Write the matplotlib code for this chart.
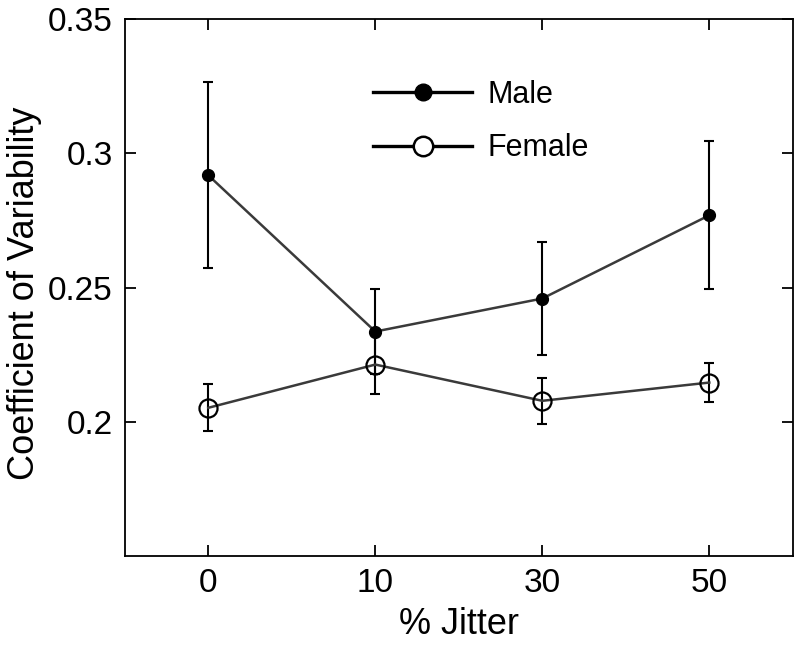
import matplotlib
matplotlib.use("Agg")
import matplotlib.pyplot as plt
from matplotlib.lines import Line2D

plt.rcParams["font.family"] = ["Liberation Sans", "DejaVu Sans"]

jitter_labels = ["0", "10", "30", "50"]
male_cv = [0.2918, 0.2336, 0.2459, 0.2769]
male_err = [0.0347, 0.0157, 0.0209, 0.0275]
female_cv = [0.2052, 0.2213, 0.2078, 0.2146]
female_err = [0.0088, 0.0110, 0.0085, 0.0073]

x = list(range(1, len(jitter_labels) + 1))

fig = plt.figure(figsize=(8, 6.45), dpi=100)
ax = fig.add_axes([0.156, 0.138, 0.835, 0.8325])

line_col = "#3a3a3a"
for cv, err in [(male_cv, male_err), (female_cv, female_err)]:
    ax.errorbar(x, cv, yerr=err, fmt="none", ecolor="black",
                elinewidth=1.5, capsize=3.8, capthick=1.5, zorder=2)
ax.plot(x, male_cv, "-", color=line_col, lw=1.8, marker="o", ms=8.5,
        mfc="black", mec="black", zorder=3)
ax.plot(x, female_cv, "-", color=line_col, lw=1.8, marker="o", ms=13,
        mfc="none", mec="black", mew=1.6, zorder=3)

ax.set_xlim(0.5, 4.5)
ax.set_ylim(0.15, 0.35)
ax.set_xticks(x)
ax.set_xticklabels(jitter_labels)
ax.set_yticks([0.2, 0.25, 0.3, 0.35])
ax.set_yticklabels(["0.2", "0.25", "0.3", "0.35"])
ax.tick_params(direction="in", length=8, width=1.3, labelsize=24,
               top=True, right=True, pad=8.5, colors="black")
for sp in ax.spines.values():
    sp.set_linewidth(1.3)

ax.set_xlabel("% Jitter", fontsize=26, labelpad=6)
ax.set_ylabel("Coefficient of Variability", fontsize=26)
# rotated label: the anchor is its right (descender) edge
ax.yaxis.set_label_coords(-0.124, 0.49)

handles = [
    Line2D([], [], color="black", lw=2.4, marker="o", ms=12, mfc="black", mec="black"),
    Line2D([], [], color="black", lw=2.4, marker="o", ms=14, mfc="white", mec="black", mew=1.8),
]
ax.legend(handles, ["Male", "Female"], loc="upper left", bbox_to_anchor=(0.348, 0.915),
          frameon=False, fontsize=22, handlelength=3.27, handletextpad=0.5,
          labelspacing=0.77, borderpad=0)

fig.savefig("out.png", dpi=100)
